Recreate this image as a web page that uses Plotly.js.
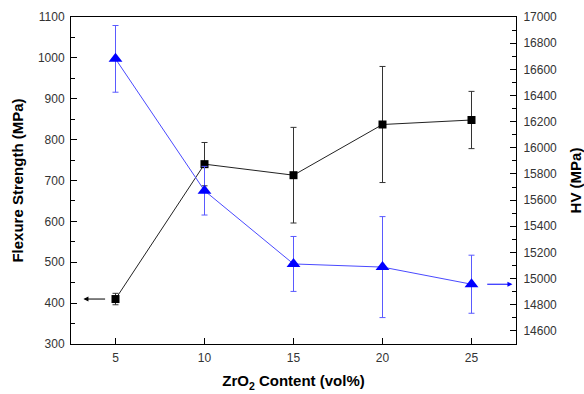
<!DOCTYPE html>
<html>
<head>
<meta charset="utf-8">
<script src="https://cdn.plot.ly/plotly-3.0.1.min.js"></script>
<style>html,body{margin:0;padding:0;background:#fff;}#chart{width:584px;height:394px;}</style>
</head>
<body>
<div id="chart"></div>
<script>
// Data
const zro2 = [5, 10, 15, 20, 25];                 // ZrO2 content (vol%)
const strength = [410, 740, 713, 837, 848];      // Flexure strength (MPa)
const strengthErr = [14, 53, 117, 142, 70];
const hv = [16680, 15672, 15112, 15088, 14957];  // HV (MPa)
const hvErr = [255, 186, 210, 386, 222];

const xTicks = [5, 10, 15, 20, 25];

const tickFont = {family: 'Arial, "Liberation Sans", sans-serif', size: 12, color: '#333'};
const titleFont = {family: 'Arial, "Liberation Sans", sans-serif', size: 15, color: '#000', weight: 'bold'};

const traces = [
  {
    x: zro2, y: strength, type: 'scatter', mode: 'lines+markers', yaxis: 'y',
    line: {color: '#222', width: 1},
    marker: {symbol: 'square', size: 8, color: '#000'},
    error_y: {type: 'data', array: strengthErr, visible: true, color: '#333', thickness: 1, width: 3},
    showlegend: false, hoverinfo: 'skip'
  },
  {
    x: zro2, y: hv, type: 'scatter', mode: 'lines+markers', yaxis: 'y2',
    line: {color: '#4a4aff', width: 1},
    marker: {symbol: 'triangle-up', size: 12, color: '#0000ff'},
    error_y: {type: 'data', array: hvErr, visible: true, color: '#5a5aff', thickness: 1, width: 3},
    showlegend: false, hoverinfo: 'skip'
  }
];

const layout = {
  width: 584, height: 394,
  margin: {l: 71, r: 68, t: 17, b: 50},
  paper_bgcolor: '#fff', plot_bgcolor: '#fff',
  showlegend: false,
  xaxis: {
    range: [2.5, 27.5], tickvals: xTicks, ticktext: xTicks.map(String),
    ticks: 'inside', ticklen: 6, tickcolor: '#000', tickwidth: 1, ticklabelstandoff: 3,
    showline: true, linecolor: '#000', linewidth: 1, mirror: true,
    showgrid: false, zeroline: false, tickfont: tickFont,
    title: {text: 'ZrO<sub>2</sub> Content (vol%)', font: titleFont, standoff: 11}
  },
  yaxis: {
    range: [300, 1100], dtick: 100, tick0: 300,
    ticks: 'inside', ticklen: 6, tickcolor: '#000', tickwidth: 1, ticklabelstandoff: 3,
    minor: {dtick: 50, ticks: 'inside', ticklen: 4, tickcolor: '#000', showgrid: false},
    showline: true, linecolor: '#000', linewidth: 1,
    showgrid: false, zeroline: false, tickfont: tickFont,
    title: {text: 'Flexure Strength (MPa)', font: titleFont, standoff: 10}
  },
  yaxis2: {
    overlaying: 'y', side: 'right',
    range: [14500, 17000], dtick: 200, tick0: 14600, tickformat: 'd',
    ticks: 'inside', ticklen: 6, tickcolor: '#000', tickwidth: 1, ticklabelstandoff: 4,
    minor: {dtick: 100, ticks: 'inside', ticklen: 4, tickcolor: '#000', showgrid: false},
    showline: true, linecolor: '#000', linewidth: 1,
    showgrid: false, zeroline: false, tickfont: tickFont,
    title: {text: 'HV (MPa)', font: titleFont, standoff: 14}
  },
  annotations: [
    {
      x: 3.2, y: strength[0], xref: 'x', yref: 'y',
      ax: 4.5, ay: strength[0], axref: 'x', ayref: 'y',
      showarrow: true, arrowhead: 2, arrowsize: 1, arrowwidth: 1, arrowcolor: '#000', text: ''
    },
    {
      x: 27.3, y: hv[4], xref: 'x', yref: 'y2',
      ax: 25.8, ay: hv[4], axref: 'x', ayref: 'y2',
      showarrow: true, arrowhead: 2, arrowsize: 1, arrowwidth: 1, arrowcolor: '#0000ff', text: ''
    }
  ]
};

Plotly.newPlot('chart', traces, layout, {staticPlot: true, displayModeBar: false});
</script>
</body>
</html>
